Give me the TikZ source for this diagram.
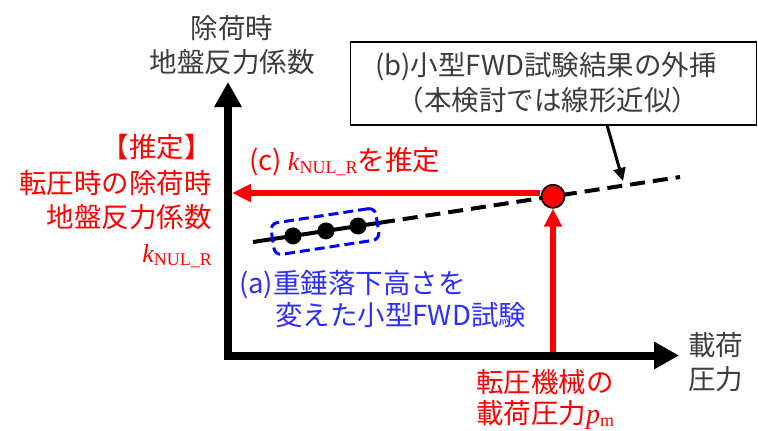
\documentclass[tikz,border=0pt]{standalone}
\usepackage{fontspec}
\newfontfamily\jp{Noto Sans CJK JP}
\newfontfamily\tnr{Liberation Serif}
\usetikzlibrary{arrows.meta,calc}
\definecolor{myred}{RGB}{255,0,0}
\definecolor{myblue}{RGB}{0,0,255}
\definecolor{txtblue}{RGB}{45,45,255}
\definecolor{txtgray}{RGB}{60,60,60}
\newcommand{\kNUL}{{\tnr\fontsize{26}{26}\selectfont\itshape k}{\tnr\fontsize{18}{18}\selectfont\raisebox{-3pt}{NUL\_R}}}
\newcommand{\pM}{{\tnr\fontsize{28}{28}\selectfont\itshape p}{\tnr\fontsize{18}{18}\selectfont\raisebox{-3pt}{m}}}
\begin{document}
\begin{tikzpicture}[x=1pt,y=-1pt,
  jpt/.style={font=\jp\fontsize{27.5}{34}\selectfont, inner sep=0pt},
  dotnode/.style={circle, fill=black, minimum size=17pt, inner sep=0pt},
  axisline/.style={line width=8pt, line join=miter},
  redarrow/.style={myred, line width=5.5pt, -{Triangle[length=19pt,width=17pt]}},
]
\useasboundingbox (0,0) rectangle (758,431);

% axes
\coordinate (O) at (228,355.5);
\coordinate (Ytip) at (228,82);
\coordinate (Xtip) at (679,355.5);
\draw[axisline, {Triangle[length=25pt,width=26pt]}-{Triangle[length=25pt,width=26pt]}] (Ytip) -- (O) -- (Xtip);

% axis labels
\node[jpt, text=txtgray, align=center] (ylab) at (232,45) {除荷時\\地盤反力係数};
\node[jpt, text=txtgray, align=left, anchor=west] (xlab) at (688,362) {載荷\\圧力};

% fitted line
\coordinate (L0) at (253,242);
\coordinate (L1) at (380,222.7);
\coordinate (L2) at (680,177);
\draw[line width=4pt] (L0) -- (L1);
\draw[line width=4pt, dash pattern=on 15pt off 8pt] (L1) -- (L2);

% group box
\node[draw=myblue, line width=3pt, dash pattern=on 10pt off 5pt, rounded corners=7pt,
      minimum width=106pt, minimum height=32pt, rotate=8.7] (grp) at (325,231.5) {};

% data points
\node[dotnode] (p1) at (293,235.9) {};
\node[dotnode] (p2) at (326,230.9) {};
\node[dotnode] (p3) at (358,226.0) {};

% red arrows
\node[circle, fill=myred, draw=black, line width=1.5pt, minimum size=23pt, inner sep=0pt] (rc) at (553,196.3) {};
\coordinate (hstart) at (540,193);
\coordinate (kpt) at (232,193);
\coordinate (pm) at (553,352);
\draw[redarrow] (hstart) -- (kpt);
\draw[redarrow, -{Triangle[length=18pt,width=17pt]}] (pm) -- (rc.south);
\node[circle, fill=myred, draw=black, line width=1.5pt, minimum size=23pt, inner sep=0pt] at (rc) {};

% box (b)
\node[draw=black, line width=1.5pt, minimum width=406pt, minimum height=83pt, inner sep=0pt] (boxb) at (553.5,83.5) {};
\node[jpt, text=txtgray, anchor=base] (b1) at (546,75) {(b)小型FWD試験結果の外挿};
\node[jpt, text=txtgray, anchor=base] (b2) at (548,110) {（本検討では線形近似）};
\coordinate (bstart) at (607,125);
\coordinate (bend) at (623,181);
\draw[line width=3pt, -{Triangle[length=13pt,width=12pt]}] (bstart) -- (bend);

% (c) label
\node[jpt, text=myred, anchor=base west] (clab) at (249,170) {(c) \kNUL{}を推定};

% left red labels
\node[jpt, text=myred, anchor=base east] (e1) at (212,157) {【推定】};
\node[jpt, text=myred, anchor=base east] (e2) at (212,193) {転圧時の除荷時};
\node[jpt, text=myred, anchor=base east] (e3) at (212,227) {地盤反力係数};
\node[jpt, text=myred, anchor=base east] (e4) at (212,262) {\kNUL};

% blue labels
\node[jpt, text=txtblue, anchor=base west] (a1) at (239,293) {(a)重錘落下高さを};
\node[jpt, text=txtblue, anchor=base west] (a2) at (275,325) {変えた小型FWD試験};

% bottom red labels
\node[jpt, text=myred, anchor=base west] (m1) at (476,392) {転圧機械の};
\node[jpt, text=myred, anchor=base west] (m2) at (476,423) {載荷圧力\pM};
\end{tikzpicture}
\end{document}
